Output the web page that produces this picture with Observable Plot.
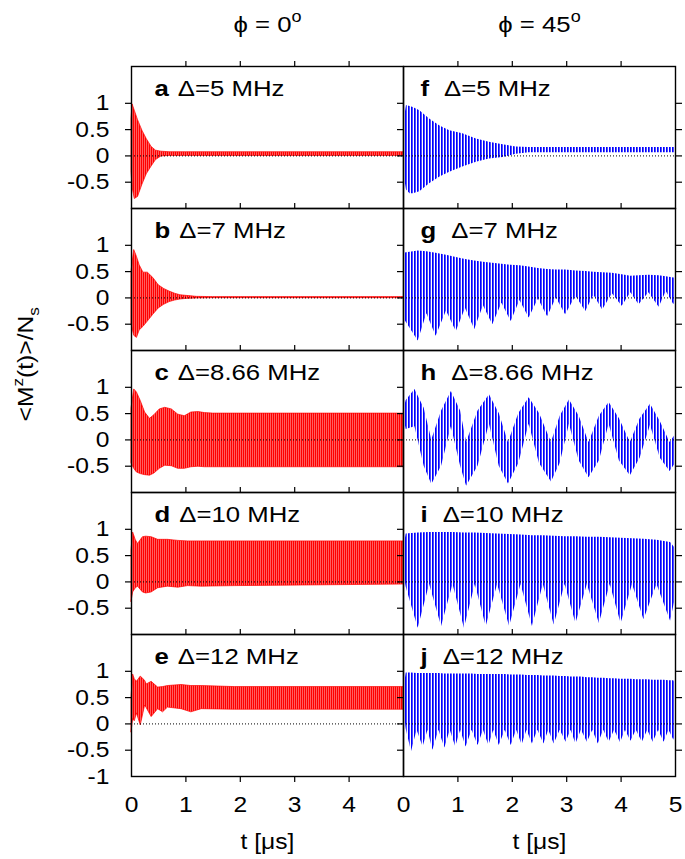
<!DOCTYPE html>
<html><head><meta charset="utf-8">
<script src="https://cdn.jsdelivr.net/npm/d3@7"></script>
<script src="https://cdn.jsdelivr.net/npm/@observablehq/plot@0.6"></script>
<style>
html,body{margin:0;padding:0;background:#fff;}
#chart{width:685px;height:859px;}
</style></head><body><div id="chart"></div>
<script>
// ---- categories / labels ----
const phis = ["0", "45"];
const rows = ["r1", "r2", "r3", "r4", "r5"];
const lettersLeft = ["a", "b", "c", "d", "e"];
const lettersRight = ["f", "g", "h", "i", "j"];
const detunings = ["5", "7", "8.66", "10", "12"];
const columnTitles = ["\u03D5 = 0^o", "\u03D5 = 45^o"];
const xTickVals = [0, 1, 2, 3, 4, 5];
const xTickMarks = [1, 2, 3, 4];
const yTickMarks = [-0.5, 0, 0.5, 1];
const yTickLabels = ["-0.5", "0", "0.5", "1"];
const yBottomLabel = ["-1"];
const yAxisLabel = "<M^z(t)>/N_s";
const xAxisLabel = "t [\u03BCs]";

// ---- envelope of the oscillating signal: time [us], upper, lower ----
// phi = 0
const aT  = [0, 0.02, 0.06, 0.12, 0.2, 0.28, 0.37, 0.45, 0.55, 0.7, 1.0, 5.0];
const aHi = [0.7, 0.98, 0.86, 0.68, 0.48, 0.32, 0.17, 0.1, 0.08, 0.07, 0.07, 0.07];
const aLo = [-0.3, -0.6, -0.82, -0.78, -0.55, -0.35, -0.2, -0.08, -0.01, 0.0, 0.0, 0.0];

const bT  = [0, 0.05, 0.1, 0.15, 0.22, 0.3, 0.4, 0.5, 0.6, 0.7, 0.8, 0.9, 1.0, 1.2, 1.5, 5.0];
const bHi = [0.5, 0.91, 0.78, 0.62, 0.48, 0.48, 0.38, 0.24, 0.17, 0.12, 0.08, 0.05, 0.04, 0.02, 0.015, 0.015];
const bLo = [-0.5, -0.72, -0.76, -0.62, -0.55, -0.45, -0.32, -0.2, -0.13, -0.08, -0.05, -0.03, -0.02, -0.01, -0.005, -0.005];

const cT  = [0, 0.05, 0.1, 0.17, 0.25, 0.34, 0.42, 0.52, 0.62, 0.74, 0.86, 0.98, 1.1, 1.23, 1.35, 1.5, 5.0];
const cHi = [0.6, 0.96, 0.9, 0.74, 0.52, 0.4, 0.47, 0.58, 0.61, 0.58, 0.48, 0.45, 0.52, 0.53, 0.51, 0.5, 0.5];
const cLo = [-0.45, -0.55, -0.62, -0.65, -0.67, -0.68, -0.64, -0.55, -0.49, -0.5, -0.55, -0.55, -0.52, -0.51, -0.52, -0.52, -0.52];

const dT  = [0, 0.03, 0.08, 0.12, 0.21, 0.27, 0.37, 0.49, 0.67, 0.86, 1.04, 1.29, 1.9, 5.0];
const dHi = [0.6, 0.94, 0.79, 0.72, 0.85, 0.86, 0.85, 0.8, 0.8, 0.78, 0.77, 0.77, 0.77, 0.77];
const dLo = [-0.38, -0.2, -0.12, -0.09, -0.2, -0.22, -0.2, -0.12, -0.09, -0.11, -0.08, -0.09, -0.08, -0.05];

const eT  = [0, 0.03, 0.06, 0.1, 0.17, 0.25, 0.28, 0.37, 0.49, 0.58, 0.67, 0.92, 1.1, 1.29, 1.9, 5.0];
const eHi = [0.5, 0.94, 0.85, 0.8, 0.9, 0.82, 0.75, 0.8, 0.69, 0.7, 0.72, 0.74, 0.72, 0.72, 0.7, 0.7];
const eLo = [-0.16, 0.09, 0.05, 0.2, -0.03, 0.35, 0.3, 0.13, 0.28, 0.22, 0.31, 0.28, 0.22, 0.28, 0.27, 0.27];

// phi = 45
const fT  = [0, 0.055, 0.12, 0.18, 0.30, 0.48, 0.67, 0.85, 1.09, 1.34, 1.58, 1.83, 2.07, 2.31, 2.62, 5.0];
const fHi = [0.6, 0.96, 0.94, 0.92, 0.86, 0.70, 0.57, 0.48, 0.42, 0.32, 0.26, 0.21, 0.17, 0.16, 0.16, 0.16];
const fLo = [-0.3, -0.65, -0.72, -0.72, -0.68, -0.53, -0.40, -0.31, -0.21, -0.12, -0.06, -0.03, 0.03, 0.06, 0.06, 0.06];

const gT  = [0, 0.27, 0.43, 0.60, 0.79, 0.97, 1.14, 1.31, 1.47, 1.64, 1.81, 1.98, 2.14, 2.31, 2.48, 2.65, 2.81, 2.98, 3.17, 3.35, 3.50, 3.66, 3.84, 4.02, 4.18, 4.33, 4.51, 4.70, 4.83, 4.97, 5.0];
const gHi = [0.85, 0.89, 0.88, 0.85, 0.81, 0.77, 0.73, 0.70, 0.68, 0.66, 0.64, 0.62, 0.61, 0.59, 0.56, 0.54, 0.53, 0.53, 0.51, 0.50, 0.49, 0.48, 0.47, 0.44, 0.41, 0.42, 0.43, 0.42, 0.40, 0.38, 0.38];
const gLo = [-0.38, -0.82, -0.30, -0.73, -0.25, -0.64, -0.20, -0.60, -0.15, -0.51, -0.10, -0.45, -0.05, -0.38, -0.02, -0.36, 0.0, -0.32, 0.03, -0.26, 0.05, -0.23, 0.08, -0.16, 0.10, -0.13, 0.10, -0.18, 0.12, -0.13, -0.05];

const hT  = [0, 0.05, 0.21, 0.38, 0.52, 0.70, 0.88, 1.05, 1.16, 1.37, 1.58, 1.76, 1.93, 2.12, 2.31, 2.50, 2.72, 2.88, 3.05, 3.23, 3.41, 3.60, 3.78, 3.97, 4.17, 4.35, 4.54, 4.72, 4.90, 5.0];
const hHi = [0.55, 0.75, 0.96, 0.6, 0.0, 0.55, 0.92, 0.55, -0.05, 0.55, 0.86, 0.5, -0.05, 0.5, 0.8, 0.5, -0.05, 0.45, 0.76, 0.45, -0.05, 0.45, 0.71, 0.4, -0.05, 0.4, 0.68, 0.35, -0.05, 0.1];
const hLo = [0.45, 0.2, 0.25, -0.5, -0.85, -0.5, 0.25, -0.5, -0.88, -0.5, 0.3, -0.5, -0.84, -0.45, 0.3, -0.45, -0.8, -0.45, 0.3, -0.4, -0.72, -0.4, 0.3, -0.4, -0.68, -0.35, 0.28, -0.35, -0.6, -0.45];

const iT  = [0, 0.05, 0.27, 0.48, 0.70, 0.91, 1.12, 1.32, 1.52, 1.73, 1.95, 2.16, 2.37, 2.57, 2.77, 2.97, 3.17, 3.38, 3.60, 3.80, 4.0, 4.21, 4.42, 4.66, 4.91, 5.0];
const iHi = [0.6, 0.91, 0.93, 0.94, 0.94, 0.94, 0.93, 0.93, 0.92, 0.91, 0.9, 0.89, 0.88, 0.88, 0.87, 0.86, 0.86, 0.85, 0.85, 0.84, 0.83, 0.82, 0.81, 0.79, 0.75, 0.63];
const iLo = [0.2, -0.1, -0.88, -0.05, -0.85, -0.05, -0.88, -0.05, -0.85, -0.05, -0.85, -0.05, -0.85, -0.05, -0.82, -0.05, -0.79, -0.05, -0.79, -0.05, -0.79, -0.05, -0.72, -0.05, -0.75, -0.3];

const jT  = [0, 0.05, 0.147, 0.25, 0.36, 0.45, 0.54, 0.65, 0.76, 0.86, 0.96, 1.05, 1.15, 1.26, 1.37, 1.47, 1.57, 1.66, 1.76, 1.87, 1.98, 2.08, 2.18, 2.27, 2.37, 2.47, 2.58, 2.67, 2.77, 2.88, 2.99, 3.08, 3.17, 3.27, 3.38, 3.48, 3.58, 3.68, 3.78, 3.88, 3.99, 4.08, 4.18, 4.28, 4.39, 4.49, 4.59, 4.69, 4.79, 4.88, 4.97, 5.0];
const jHi = [0.6, 0.97, 0.97, 0.96, 0.96, 0.96, 0.96, 0.96, 0.95, 0.95, 0.95, 0.95, 0.95, 0.95, 0.94, 0.94, 0.94, 0.94, 0.94, 0.94, 0.93, 0.93, 0.93, 0.92, 0.92, 0.92, 0.91, 0.91, 0.91, 0.9, 0.9, 0.89, 0.89, 0.89, 0.88, 0.88, 0.87, 0.87, 0.86, 0.86, 0.85, 0.85, 0.85, 0.84, 0.84, 0.84, 0.83, 0.83, 0.83, 0.82, 0.82, 0.75];
const jLo = [0.3, -0.1, -0.53, -0.12, -0.44, -0.12, -0.50, -0.12, -0.46, -0.12, -0.44, -0.12, -0.44, -0.12, -0.41, -0.12, -0.41, -0.12, -0.41, -0.12, -0.41, -0.12, -0.40, -0.12, -0.38, -0.12, -0.38, -0.12, -0.38, -0.12, -0.35, -0.12, -0.38, -0.12, -0.35, -0.12, -0.38, -0.12, -0.35, -0.12, -0.36, -0.12, -0.33, -0.12, -0.35, -0.12, -0.35, -0.12, -0.35, -0.12, -0.31, -0.2];

// ---- assemble tables for Plot ----
const leftSeries = [[aT, aHi, aLo], [bT, bHi, bLo], [cT, cHi, cLo], [dT, dHi, dLo], [eT, eHi, eLo]];
const rightSeries = [[fT, fHi, fLo], [gT, gHi, gLo], [hT, hHi, hLo], [iT, iHi, iLo], [jT, jHi, jLo]];
function toRows(phi, list) {
  return list.flatMap(([T, H, L], r) => T.map((t, k) => ({phi, row: rows[r], t, hi: H[k], lo: L[k]})));
}
const leftData = toRows(phis[0], leftSeries);
const rightData = toRows(phis[1], rightSeries);

const panelLabels = [
  ...lettersLeft.map((l, r) => ({phi: phis[0], row: rows[r], s: l + "|\u0394=" + detunings[r] + " MHz"})),
  ...lettersRight.map((l, r) => ({phi: phis[1], row: rows[r], s: l + "|\u0394=" + detunings[r] + " MHz"}))
];
const yLabelData = [
  ...rows.flatMap(row => yTickMarks.map((v, k) => ({phi: phis[0], row, v, s: yTickLabels[k]}))),
  {phi: phis[0], row: rows[4], v: -1, s: yBottomLabel[0]}
];
const xLabelData = [
  ...xTickVals.slice(0, 5).map(v => ({phi: phis[0], row: rows[4], v, s: String(v)})),
  ...xTickVals.map(v => ({phi: phis[1], row: rows[4], v, s: String(v)}))
];
const titleData = phis.map((p, k) => ({phi: p, row: rows[0], s: columnTitles[k]}));
const xTitleData = phis.map(p => ({phi: p, row: rows[4], s: xAxisLabel}));
const yTitleData = [{phi: phis[0], row: rows[2], s: yAxisLabel}];

const RED = "#ff0000", BLUE = "#0000ff";
const FONT = "'Liberation Sans', Arial, Helvetica, sans-serif";
const SX = 1.12; // horizontal stretch of the reference lettering

const svg = Plot.plot({
  width: 685, height: 859,
  marginLeft: 130, marginRight: 10, marginTop: 64, marginBottom: 82,
  style: {fontFamily: FONT, fontSize: "22px", color: "black", background: "white", overflow: "visible"},
  fx: {domain: phis, padding: 0, axis: null},
  fy: {domain: rows, padding: 0, axis: null},
  x: {domain: [0, 5], axis: null},
  y: {domain: [-1, 1.7], axis: null},
  marks: [
    Plot.areaY(leftData, {x: "t", y1: "lo", y2: "hi", fx: "phi", fy: "row", fill: "url(#osc-red)", stroke: RED, strokeWidth: 0.7}),
    Plot.areaY(rightData, {x: "t", y1: "lo", y2: "hi", fx: "phi", fy: "row", fill: "url(#osc-blue)"}),
    Plot.ruleY([0], {stroke: "black", strokeWidth: 1, strokeDasharray: "1,2"}),
    Plot.frame({stroke: "black", strokeWidth: 1.4}),
    Plot.axisY(yTickMarks, {anchor: "left", tickSize: 6, facetAnchor: null, fill: "none", label: null, strokeWidth: 1.2}),
    Plot.axisY(yTickMarks, {anchor: "right", tickSize: 6, facetAnchor: "right", fill: "none", label: null, strokeWidth: 1.2}),
    Plot.axisX(xTickMarks, {anchor: "bottom", tickSize: 6, facetAnchor: "bottom", fill: "none", label: null, strokeWidth: 1.2}),
    Plot.axisX(xTickMarks, {anchor: "top", tickSize: 6, facetAnchor: null, fill: "none", label: null, strokeWidth: 1.2}),
    Plot.text(yLabelData, {fx: "phi", fy: "row", y: "v", text: "s", frameAnchor: "left", dx: -22, textAnchor: "end", lineAnchor: "middle", fontSize: 22}),
    Plot.text(xLabelData, {fx: "phi", fy: "row", x: "v", text: "s", frameAnchor: "bottom", dy: 28, lineAnchor: "middle", fontSize: 22}),
    Plot.text(panelLabels.filter(d => d.phi === phis[0]), {fx: "phi", fy: "row", text: "s", frameAnchor: "top-left", dx: 23, dy: 22, textAnchor: "start", lineAnchor: "middle", fontSize: 23}),
    Plot.text(panelLabels.filter(d => d.phi === phis[1]), {fx: "phi", fy: "row", text: "s", frameAnchor: "top-left", dx: 17, dy: 22, textAnchor: "start", lineAnchor: "middle", fontSize: 23}),
    Plot.text(titleData, {fx: "phi", fy: "row", text: "s", frameAnchor: "top", dy: -42, lineAnchor: "middle", fontSize: 23}),
    Plot.text(xTitleData, {fx: "phi", fy: "row", text: "s", frameAnchor: "bottom", dy: 65, lineAnchor: "middle", fontSize: 22}),
    Plot.text(yTitleData, {fx: "phi", fy: "row", text: "s", frameAnchor: "left", dx: -106, rotate: -90, lineAnchor: "middle", fontSize: 22})
  ]
});
document.getElementById("chart").appendChild(svg);

// patterns emulating the dense oscillation lines
const defs = d3.select(svg).insert("defs", ":first-child");
const pr = defs.append("pattern").attr("id", "osc-red").attr("patternUnits", "userSpaceOnUse").attr("width", 2).attr("height", 8);
pr.append("rect").attr("width", 2).attr("height", 8).attr("fill", "#ff9c9c");
pr.append("rect").attr("width", 1.4).attr("height", 8).attr("fill", RED);
const pb = defs.append("pattern").attr("id", "osc-blue").attr("patternUnits", "userSpaceOnUse").attr("width", 3).attr("height", 8);
pb.append("rect").attr("width", 1.7).attr("height", 8).attr("fill", BLUE);

// rich text: ^x superscript, _x subscript, "|" splits bold panel letter
const NS = "http://www.w3.org/2000/svg";
function rich(el) {
  const s = el.textContent;
  const fs = parseFloat(getComputedStyle(el).fontSize) || 22;
  if (!/[\^_|]/.test(s)) return;
  el.textContent = "";
  if (s.includes("|")) {
    const [letter, rest] = s.split("|");
    const b = document.createElementNS(NS, "tspan");
    b.setAttribute("font-weight", "bold"); b.textContent = letter; el.appendChild(b);
    const r = document.createElementNS(NS, "tspan");
    r.setAttribute("dx", (lettersLeft.includes(letter) ? 9 : 15) / SX); r.textContent = rest; el.appendChild(r);
    return;
  }
  let cur = 0, buf = "";
  const parts = [];
  for (let k = 0; k < s.length; k++) {
    const c = s[k];
    if ((c === "^" || c === "_") && k + 1 < s.length) {
      if (buf) parts.push({t: buf, m: 0}); buf = "";
      parts.push({t: s[k + 1], m: c === "^" ? -0.45 : 0.3}); k++;
    } else buf += c;
  }
  if (buf) parts.push({t: buf, m: 0});
  for (const p of parts) {
    const ts = document.createElementNS(NS, "tspan");
    ts.setAttribute("dy", ((p.m - cur) * fs) + "px");
    if (p.m !== 0) ts.setAttribute("font-size", (fs * 0.7) + "px");
    ts.textContent = p.t; el.appendChild(ts); cur = p.m;
  }
}
svg.querySelectorAll("text").forEach(el => {
  rich(el);
  // horizontal stretch about the text anchor point
  const tr = el.getAttribute("transform");
  if (tr) {
    el.setAttribute("transform", tr + ` scale(${SX},1)`);
  } else {
    const x = +(el.getAttribute("x") || 0), y = +(el.getAttribute("y") || 0);
    el.removeAttribute("x"); el.removeAttribute("y");
    el.setAttribute("transform", `translate(${x},${y}) scale(${SX},1)`);
  }
});
</script>
</body></html>
